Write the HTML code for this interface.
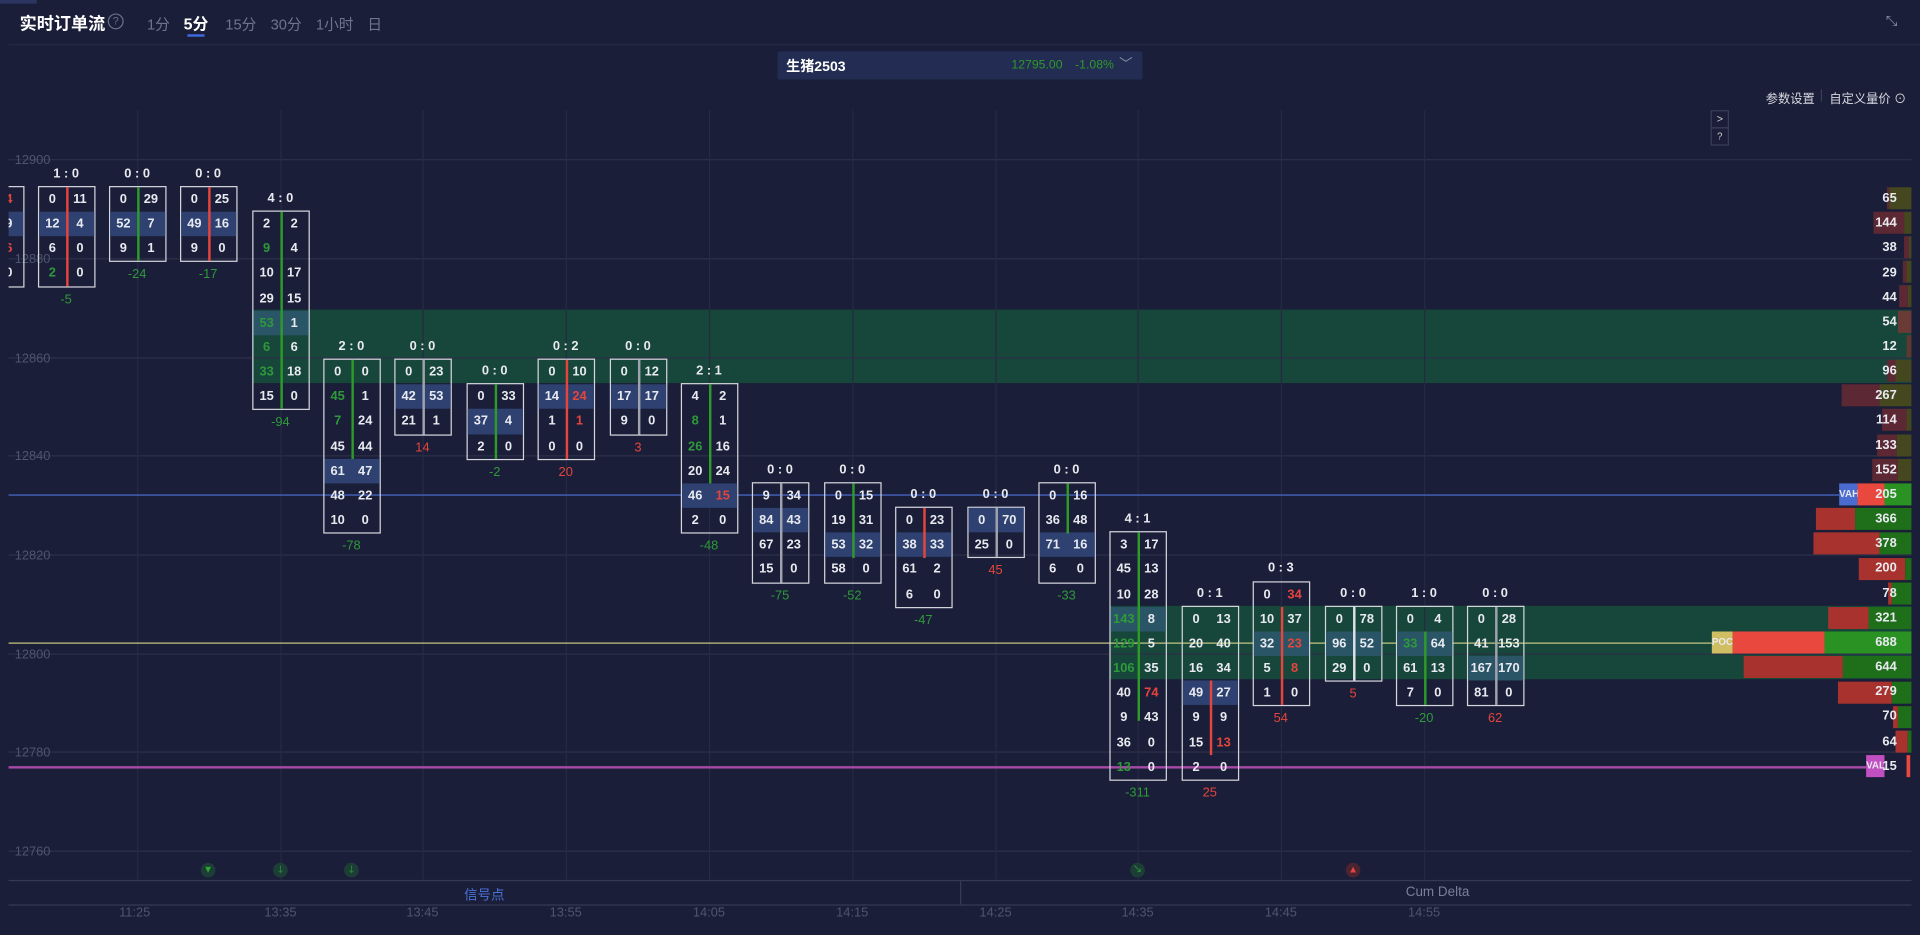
<!DOCTYPE html>
<html><head><meta charset="utf-8">
<style>
html,body{margin:0;padding:0;background:#1b1e38;width:1920px;height:935px;overflow:hidden}
#s{position:absolute;left:0;top:0;width:1568px;height:764px;transform:scale(1.22449,1.22382);transform-origin:0 0;font-family:"Liberation Sans","Noto Sans CJK SC",sans-serif;color:#e8eaf0}
.a{position:absolute}
.hl{position:absolute;height:1px;background:#2c3048}
.vl{position:absolute;width:1px;top:90px;height:629px;background:#262a44}
.yl{position:absolute;left:12px;font-size:10.5px;color:#4f5470;line-height:12px}
.k{position:absolute;width:47px;font-size:10.5px;font-weight:bold}
.hd,.ft{height:20.16px;line-height:20px;text-align:center;white-space:nowrap;width:47px}
.ft{font-weight:normal}
.bx{position:relative;border:1px solid #d4d6de;box-sizing:border-box;width:47px}
.r{height:20.16px;display:flex}
.r span{flex:1;text-align:center;line-height:20px}
.b{background:#2e4170}
.t{background:#2a5566}
.m{position:absolute;left:22.5px;top:0;bottom:0;width:1.5px;background:#a0a3ad}
.mg{background:#2e9a2a}.mr{background:#e5453c}
.g{color:#2e9a3a}.rd{color:#e5453c}
.pb{position:absolute;height:18px}
.pn{position:absolute;width:60px;text-align:right;left:1489px;font-size:10.5px;font-weight:bold;line-height:20px}
.tl{position:absolute;top:740px;font-size:10.5px;color:#4f5470;width:40px;text-align:center}
.sg{position:absolute;top:705px;width:12px;height:12px;border-radius:6px;background:#1d3d37;color:#2eaa2e;font-size:8px;line-height:12px;text-align:center}
</style></head><body><div id="s">
<div class="a" style="left:0;top:0;width:30px;height:3px;background:#2b3560"></div>
<div class="a" style="left:16px;top:9px;font-size:14px;font-weight:bold;color:#fff">实时订单流</div>
<div class="a" style="left:88px;top:11px;width:11px;height:11px;border:1px solid #6a6f88;border-radius:7px;font-size:9px;color:#6a6f88;text-align:center;line-height:11px">?</div>
<div class="a" style="left:120px;top:11px;font-size:12px;color:#6f748c">1分</div>
<div class="a" style="left:150px;top:9px;font-size:13px;font-weight:bold;color:#fff">5分</div>
<div class="a" style="left:153px;top:28px;width:14px;height:2px;background:#3d6ae0"></div>
<div class="a" style="left:184px;top:11px;font-size:12px;color:#6f748c">15分</div>
<div class="a" style="left:221px;top:11px;font-size:12px;color:#6f748c">30分</div>
<div class="a" style="left:258px;top:11px;font-size:12px;color:#6f748c">1小时</div>
<div class="a" style="left:300px;top:11px;font-size:12px;color:#6f748c">日</div>
<div class="a" style="left:1540px;top:10px;font-size:12px;color:#8a8fa3">⤡</div>
<div class="a" style="left:7px;top:36px;width:1561px;height:1px;background:#262a44"></div>
<div class="a" style="left:635px;top:42px;width:298px;height:23px;background:#232c52;border-radius:2px"></div>
<div class="a" style="left:642px;top:46px;font-size:11.5px;font-weight:bold;color:#fff">生猪2503</div>
<div class="a" style="left:826px;top:48px;font-size:10px;color:#2e9a2a">12795.00</div>
<div class="a" style="left:878px;top:48px;font-size:10px;color:#2e9a2a">-1.08%</div>
<div class="a" style="left:914px;top:44px;font-size:11px;color:#8a8fa3">﹀</div>
<div class="a" style="left:1442px;top:72px;font-size:10px;color:#d8dae2">参数设置</div>
<div class="a" style="left:1487px;top:73px;width:1px;height:10px;background:#3a3e58"></div>
<div class="a" style="left:1494px;top:72px;font-size:10px;color:#d8dae2">自定义量价 ⊙</div>
<div class="a" style="left:1397px;top:90px;width:13px;height:13px;border:1px solid #3a3e58;font-size:9px;text-align:center;line-height:13px;color:#ccc">&gt;</div>
<div class="a" style="left:1397px;top:104px;width:13px;height:13px;border:1px solid #3a3e58;font-size:8px;text-align:center;line-height:13px;color:#ccc">?</div>

<!-- bands -->
<div class="a" style="left:206px;top:252.8px;width:1355px;height:60.5px;background:#17463b"></div>
<div class="a" style="left:906px;top:494.7px;width:655px;height:60.5px;background:#17463b"></div>
<!-- grid -->
<div class="hl" style="left:7px;top:130px;width:1554px"></div>
<div class="hl" style="left:7px;top:211px;width:1554px"></div>
<div class="hl" style="left:7px;top:292px;width:1554px"></div>
<div class="hl" style="left:7px;top:372px;width:1554px"></div>
<div class="hl" style="left:7px;top:453px;width:1554px"></div>
<div class="hl" style="left:7px;top:534px;width:1554px"></div>
<div class="hl" style="left:7px;top:614px;width:1554px"></div>
<div class="hl" style="left:7px;top:695px;width:1554px"></div>
<div class="yl" style="top:125px">12900</div>
<div class="yl" style="top:206px">12880</div>
<div class="yl" style="top:287px">12860</div>
<div class="yl" style="top:367px">12840</div>
<div class="yl" style="top:448px">12820</div>
<div class="yl" style="top:529px">12800</div>
<div class="yl" style="top:609px">12780</div>
<div class="yl" style="top:690px">12760</div>
<div class="vl" style="left:112px"></div><div class="vl" style="left:229px"></div><div class="vl" style="left:345px"></div><div class="vl" style="left:462px"></div><div class="vl" style="left:579px"></div><div class="vl" style="left:696px"></div><div class="vl" style="left:813px"></div><div class="vl" style="left:929px"></div><div class="vl" style="left:1046px"></div><div class="vl" style="left:1163px"></div>
<!-- VA lines -->
<div class="a" style="left:7px;top:404px;width:1495px;height:1px;background:#4a6bd0"></div>
<div class="a" style="left:7px;top:525px;width:1391px;height:1px;background:#c8c880"></div>
<div class="a" style="left:7px;top:626px;width:1517px;height:1.5px;background:#a64aa6"></div>

<!-- candles -->
<div class="a" style="left:7px;top:120px;width:1400px;height:560px;overflow:hidden">
<div style="position:absolute;left:-7px;top:-120px;width:1568px;height:764px">
<div class="k" style="left:-27.5px;top:131.84px"><div class="hd">0 : 2</div><div class="bx"><div class="m mr"></div><div class="r"><span>0</span><span class="rd">4</span></div><div class="r b"><span>1</span><span>9</span></div><div class="r"><span>0</span><span class="rd">6</span></div><div class="r"><span>0</span><span>0</span></div></div></div>
<div class="k" style="left:30.5px;top:131.84px"><div class="hd">1 : 0</div><div class="bx"><div class="m mr"></div><div class="r"><span>0</span><span>11</span></div><div class="r b"><span>12</span><span>4</span></div><div class="r"><span>6</span><span>0</span></div><div class="r"><span class="g">2</span><span>0</span></div></div><div class="ft g">-5</div></div>
<div class="k" style="left:88.5px;top:131.84px"><div class="hd">0 : 0</div><div class="bx"><div class="m mg"></div><div class="r"><span>0</span><span>29</span></div><div class="r b"><span>52</span><span>7</span></div><div class="r"><span>9</span><span>1</span></div></div><div class="ft g">-24</div></div>
<div class="k" style="left:146.5px;top:131.84px"><div class="hd">0 : 0</div><div class="bx"><div class="m mr"></div><div class="r"><span>0</span><span>25</span></div><div class="r b"><span>49</span><span>16</span></div><div class="r"><span>9</span><span>0</span></div></div><div class="ft g">-17</div></div>
<div class="k" style="left:205.5px;top:152px"><div class="hd">4 : 0</div><div class="bx"><div class="m mg"></div><div class="r"><span>2</span><span>2</span></div><div class="r"><span class="g">9</span><span>4</span></div><div class="r"><span>10</span><span>17</span></div><div class="r"><span>29</span><span>15</span></div><div class="r t"><span class="g">53</span><span>1</span></div><div class="r"><span class="g">6</span><span>6</span></div><div class="r"><span class="g">33</span><span>18</span></div><div class="r"><span>15</span><span>0</span></div></div><div class="ft g">-94</div></div>
<div class="k" style="left:263.5px;top:273px"><div class="hd">2 : 0</div><div class="bx"><div class="m mg" style="bottom:60px"></div><div class="r"><span>0</span><span>0</span></div><div class="r"><span class="g">45</span><span>1</span></div><div class="r"><span class="g">7</span><span>24</span></div><div class="r"><span>45</span><span>44</span></div><div class="r b"><span>61</span><span>47</span></div><div class="r"><span>48</span><span>22</span></div><div class="r"><span>10</span><span>0</span></div></div><div class="ft g">-78</div></div>
<div class="k" style="left:321.5px;top:273px"><div class="hd">0 : 0</div><div class="bx"><div class="m"></div><div class="r"><span>0</span><span>23</span></div><div class="r b"><span>42</span><span>53</span></div><div class="r"><span>21</span><span>1</span></div></div><div class="ft rd">14</div></div>
<div class="k" style="left:380.5px;top:293.1px"><div class="hd">0 : 0</div><div class="bx"><div class="m mg"></div><div class="r"><span>0</span><span>33</span></div><div class="r b"><span>37</span><span>4</span></div><div class="r"><span>2</span><span>0</span></div></div><div class="ft g">-2</div></div>
<div class="k" style="left:438.5px;top:273px"><div class="hd">0 : 2</div><div class="bx"><div class="m mr"></div><div class="r"><span>0</span><span>10</span></div><div class="r b"><span>14</span><span class="rd">24</span></div><div class="r"><span>1</span><span class="rd">1</span></div><div class="r"><span>0</span><span>0</span></div></div><div class="ft rd">20</div></div>
<div class="k" style="left:497.5px;top:273px"><div class="hd">0 : 0</div><div class="bx"><div class="m"></div><div class="r"><span>0</span><span>12</span></div><div class="r b"><span>17</span><span>17</span></div><div class="r"><span>9</span><span>0</span></div></div><div class="ft rd">3</div></div>
<div class="k" style="left:555.5px;top:293.1px"><div class="hd">2 : 1</div><div class="bx"><div class="m mg" style="bottom:40px"></div><div class="r"><span>4</span><span>2</span></div><div class="r"><span class="g">8</span><span>1</span></div><div class="r"><span class="g">26</span><span>16</span></div><div class="r"><span>20</span><span>24</span></div><div class="r b"><span>46</span><span class="rd">15</span></div><div class="r"><span>2</span><span>0</span></div></div><div class="ft g">-48</div></div>
<div class="k" style="left:613.5px;top:373.8px"><div class="hd">0 : 0</div><div class="bx"><div class="m"></div><div class="r"><span>9</span><span>34</span></div><div class="r b"><span>84</span><span>43</span></div><div class="r"><span>67</span><span>23</span></div><div class="r"><span>15</span><span>0</span></div></div><div class="ft g">-75</div></div>
<div class="k" style="left:672.5px;top:373.8px"><div class="hd">0 : 0</div><div class="bx"><div class="m mg" style="bottom:20px"></div><div class="r"><span>0</span><span>15</span></div><div class="r"><span>19</span><span>31</span></div><div class="r b"><span>53</span><span>32</span></div><div class="r"><span>58</span><span>0</span></div></div><div class="ft g">-52</div></div>
<div class="k" style="left:730.5px;top:393.9px"><div class="hd">0 : 0</div><div class="bx"><div class="m mr" style="bottom:40px"></div><div class="r"><span>0</span><span>23</span></div><div class="r b"><span>38</span><span>33</span></div><div class="r"><span>61</span><span>2</span></div><div class="r"><span>6</span><span>0</span></div></div><div class="ft g">-47</div></div>
<div class="k" style="left:789.5px;top:393.9px"><div class="hd">0 : 0</div><div class="bx"><div class="m"></div><div class="r b"><span>0</span><span>70</span></div><div class="r"><span>25</span><span>0</span></div></div><div class="ft rd">45</div></div>
<div class="k" style="left:847.5px;top:373.8px"><div class="hd">0 : 0</div><div class="bx"><div class="m mg" style="bottom:40px"></div><div class="r"><span>0</span><span>16</span></div><div class="r"><span>36</span><span>48</span></div><div class="r b"><span>71</span><span>16</span></div><div class="r"><span>6</span><span>0</span></div></div><div class="ft g">-33</div></div>
<div class="k" style="left:905.5px;top:414.1px"><div class="hd">4 : 1</div><div class="bx"><div class="m mg" style="bottom:48px"></div><div class="r"><span>3</span><span>17</span></div><div class="r"><span>45</span><span>13</span></div><div class="r"><span>10</span><span>28</span></div><div class="r t"><span class="g">143</span><span>8</span></div><div class="r"><span class="g">129</span><span>5</span></div><div class="r"><span class="g">106</span><span>35</span></div><div class="r"><span>40</span><span class="rd">74</span></div><div class="r"><span>9</span><span>43</span></div><div class="r"><span>36</span><span>0</span></div><div class="r"><span class="g">13</span><span>0</span></div></div><div class="ft g">-311</div></div>
<div class="k" style="left:964.5px;top:474.6px"><div class="hd">0 : 1</div><div class="bx"><div class="m mr" style="top:60px;bottom:20px"></div><div class="r"><span>0</span><span>13</span></div><div class="r"><span>20</span><span>40</span></div><div class="r"><span>16</span><span>34</span></div><div class="r b"><span>49</span><span>27</span></div><div class="r"><span>9</span><span>9</span></div><div class="r"><span>15</span><span class="rd">13</span></div><div class="r"><span>2</span><span>0</span></div></div><div class="ft rd">25</div></div>
<div class="k" style="left:1022.5px;top:454.4px"><div class="hd">0 : 3</div><div class="bx"><div class="m mr" style="top:20px"></div><div class="r"><span>0</span><span class="rd">34</span></div><div class="r"><span>10</span><span>37</span></div><div class="r t"><span>32</span><span class="rd">23</span></div><div class="r"><span>5</span><span class="rd">8</span></div><div class="r"><span>1</span><span>0</span></div></div><div class="ft rd">54</div></div>
<div class="k" style="left:1081.5px;top:474.6px"><div class="hd">0 : 0</div><div class="bx"><div class="m" style="background:#e0e2ea"></div><div class="r"><span>0</span><span>78</span></div><div class="r t"><span>96</span><span>52</span></div><div class="r"><span>29</span><span>0</span></div></div><div class="ft rd">5</div></div>
<div class="k" style="left:1139.5px;top:474.6px"><div class="hd">1 : 0</div><div class="bx"><div class="m mg" style="top:20px"></div><div class="r"><span>0</span><span>4</span></div><div class="r t"><span class="g">33</span><span>64</span></div><div class="r"><span>61</span><span>13</span></div><div class="r"><span>7</span><span>0</span></div></div><div class="ft g">-20</div></div>
<div class="k" style="left:1197.5px;top:474.6px"><div class="hd">0 : 0</div><div class="bx"><div class="m"></div><div class="r"><span>0</span><span>28</span></div><div class="r"><span>41</span><span>153</span></div><div class="r t"><span>167</span><span>170</span></div><div class="r"><span>81</span><span>0</span></div></div><div class="ft rd">62</div></div>
</div></div>

<!-- profile -->
<div class="pb" style="top:153px;left:1541px;width:2px;background:#5c2833"></div><div class="pb" style="top:153px;left:1543px;width:18px;background:#45471f"></div>
<div class="pb" style="top:173px;left:1530px;width:25px;background:#5c2833"></div><div class="pb" style="top:173px;left:1555px;width:6px;background:#45471f"></div>
<div class="pb" style="top:193px;left:1555px;width:4px;background:#5c2833"></div><div class="pb" style="top:193px;left:1559px;width:2px;background:#45471f"></div>
<div class="pb" style="top:213px;left:1554px;width:3px;background:#5c2833"></div><div class="pb" style="top:213px;left:1557px;width:4px;background:#45471f"></div>
<div class="pb" style="top:233px;left:1551px;width:7px;background:#5c2833"></div><div class="pb" style="top:233px;left:1558px;width:3px;background:#45471f"></div>
<div class="pb" style="top:254px;left:1550px;width:11px;background:#6a3a36"></div>
<div class="pb" style="top:274px;left:1557px;width:4px;background:#5c3a30"></div>
<div class="pb" style="top:294px;left:1541px;width:7px;background:#5c2833"></div><div class="pb" style="top:294px;left:1548px;width:13px;background:#45471f"></div>
<div class="pb" style="top:314px;left:1504px;width:31px;background:#5c2833"></div><div class="pb" style="top:314px;left:1535px;width:26px;background:#45471f"></div>
<div class="pb" style="top:334px;left:1537px;width:20px;background:#5c2833"></div><div class="pb" style="top:334px;left:1557px;width:4px;background:#45471f"></div>
<div class="pb" style="top:355px;left:1533px;width:16px;background:#5c2833"></div><div class="pb" style="top:355px;left:1549px;width:12px;background:#45471f"></div>
<div class="pb" style="top:375px;left:1529px;width:21px;background:#5c2833"></div><div class="pb" style="top:375px;left:1550px;width:11px;background:#45471f"></div>
<div class="pb" style="top:395px;left:1502px;width:15px;background:#4a6bd0;font-size:8px;font-weight:bold;line-height:18px;text-align:center">VAH</div><div class="pb" style="top:395px;left:1517px;width:22px;background:#e8483d"></div><div class="pb" style="top:395px;left:1539px;width:22px;background:#2a9222"></div>
<div class="pb" style="top:415px;left:1483px;width:32px;background:#a8322d"></div><div class="pb" style="top:415px;left:1515px;width:46px;background:#1f6e1a"></div>
<div class="pb" style="top:435px;left:1481px;width:54px;background:#a8322d"></div><div class="pb" style="top:435px;left:1535px;width:26px;background:#1f6e1a"></div>
<div class="pb" style="top:456px;left:1518px;width:38px;background:#a8322d"></div><div class="pb" style="top:456px;left:1556px;width:5px;background:#1f6e1a"></div>
<div class="pb" style="top:476px;left:1542px;width:3px;background:#a8322d"></div><div class="pb" style="top:476px;left:1545px;width:16px;background:#1f6e1a"></div>
<div class="pb" style="top:496px;left:1493px;width:33px;background:#a8322d"></div><div class="pb" style="top:496px;left:1526px;width:35px;background:#1f6e1a"></div>
<div class="pb" style="top:516px;left:1398px;width:17px;background:#cfbe62;font-size:8px;font-weight:bold;line-height:18px;text-align:center">POC</div><div class="pb" style="top:516px;left:1415px;width:75px;background:#e8483d"></div><div class="pb" style="top:516px;left:1490px;width:71px;background:#2a9222"></div>
<div class="pb" style="top:536px;left:1424px;width:81px;background:#a8322d"></div><div class="pb" style="top:536px;left:1505px;width:56px;background:#1f6e1a"></div>
<div class="pb" style="top:557px;left:1501px;width:44px;background:#a8322d"></div><div class="pb" style="top:557px;left:1545px;width:16px;background:#1f6e1a"></div>
<div class="pb" style="top:577px;left:1546px;width:4px;background:#a8322d"></div><div class="pb" style="top:577px;left:1550px;width:11px;background:#1f6e1a"></div>
<div class="pb" style="top:597px;left:1548px;width:10px;background:#a8322d"></div><div class="pb" style="top:597px;left:1558px;width:3px;background:#1f6e1a"></div>
<div class="pb" style="top:617px;left:1524px;width:15px;background:#c24fc2;font-size:8px;font-weight:bold;line-height:18px;text-align:center">VAL</div><div class="pb" style="top:617px;left:1557px;width:3px;background:#e8483d"></div>
<div class="pn" style="top:152px">65</div><div class="pn" style="top:172.2px">144</div><div class="pn" style="top:192.3px">38</div><div class="pn" style="top:212.5px">29</div><div class="pn" style="top:232.6px">44</div><div class="pn" style="top:252.8px">54</div><div class="pn" style="top:273px">12</div><div class="pn" style="top:293.1px">96</div><div class="pn" style="top:313.3px">267</div><div class="pn" style="top:333.4px">114</div><div class="pn" style="top:353.6px">133</div><div class="pn" style="top:373.8px">152</div><div class="pn" style="top:393.9px">205</div><div class="pn" style="top:414.1px">366</div><div class="pn" style="top:434.2px">378</div><div class="pn" style="top:454.4px">200</div><div class="pn" style="top:474.6px">78</div><div class="pn" style="top:494.7px">321</div><div class="pn" style="top:514.9px">688</div><div class="pn" style="top:535px">644</div><div class="pn" style="top:555.2px">279</div><div class="pn" style="top:575.4px">70</div><div class="pn" style="top:595.5px">64</div><div class="pn" style="top:615.7px">15</div>

<!-- signals -->
<div class="sg" style="left:164px">▼</div>
<div class="sg" style="left:223px">🡓</div>
<div class="sg" style="left:281px">🡓</div>
<div class="sg" style="left:923px">↘</div>
<div class="sg" style="left:1099px;background:#4a2430;color:#e5453c">▲</div>
<!-- bottom panel -->
<div class="a" style="left:7px;top:719px;width:1554px;height:1px;background:#363a54"></div>
<div class="a" style="left:784px;top:720px;width:1px;height:19px;background:#363a54"></div>
<div class="a" style="left:379px;top:723px;font-size:11px;color:#4a72d8">信号点</div>
<div class="a" style="left:1148px;top:723px;font-size:11px;color:#7a7f98">Cum Delta</div>
<div class="a" style="left:7px;top:739px;width:1554px;height:1px;background:#363a54"></div>
<div class="tl" style="left:90px">11:25</div><div class="tl" style="left:209px">13:35</div><div class="tl" style="left:325px">13:45</div><div class="tl" style="left:442px">13:55</div><div class="tl" style="left:559px">14:05</div><div class="tl" style="left:676px">14:15</div><div class="tl" style="left:793px">14:25</div><div class="tl" style="left:909px">14:35</div><div class="tl" style="left:1026px">14:45</div><div class="tl" style="left:1143px">14:55</div>
</div></body></html>
